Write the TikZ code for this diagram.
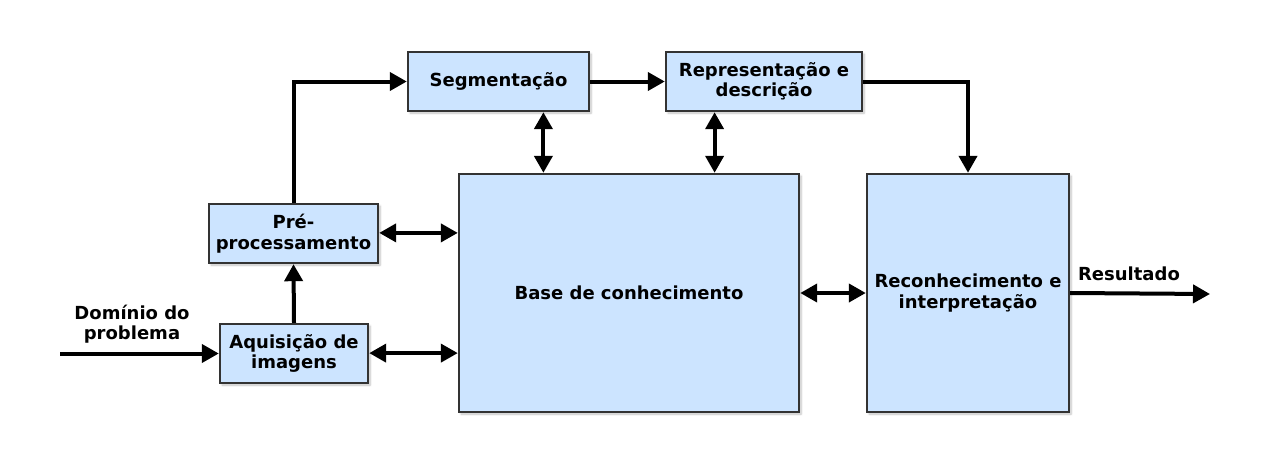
\documentclass[tikz,border=0pt]{standalone}
\usepackage{fontspec}
\setmainfont{DejaVu Sans}
\usetikzlibrary{arrows.meta,calc,shadows.blur}
\begin{document}
\begin{tikzpicture}[x=1pt,y=-1pt,
  box/.style={draw=black!80, line width=2.4pt, fill={rgb,255:red,204;green,228;blue,255},
    align=center, inner sep=0pt, font=\fontsize{18}{20.5}\selectfont\bfseries,
    blur shadow={shadow xshift=2pt, shadow yshift=-2pt, shadow blur steps=6, shadow opacity=25}},
  lbl/.style={align=center, font=\fontsize{18}{20.5}\selectfont\bfseries},
  flow/.style={line width=4pt, -{Triangle[length=17pt,width=18pt]}},
  both/.style={line width=4pt, {Triangle[length=17pt,width=18pt]}-{Triangle[length=17pt,width=18pt]}}]
\useasboundingbox (0,0) rectangle (1277,471);

% processing blocks
\node[box, minimum width=181pt, minimum height=59pt] (seg) at (498.5,81.5) {Segmentação};
\node[box, minimum width=196pt, minimum height=59pt] (rep) at (764,81.5) {Representação e\\descrição};
\node[box, minimum width=169pt, minimum height=59pt] (pre) at (293.5,233.5) {Pré-\\processamento};
\node[box, minimum width=148pt, minimum height=59pt] (aq) at (294,353.5) {Aquisição de\\imagens};
\node[box, minimum width=340pt, minimum height=238pt] (base) at (629,293) {Base de conhecimento};
\node[box, minimum width=202pt, minimum height=238pt] (rec) at (968,293) {Reconhecimento e\\interpretação};

% connection points on the knowledge base
\coordinate (bt1) at ($(base.north west)!0.25!(base.north east)$);
\coordinate (bt2) at ($(base.north west)!0.75!(base.north east)$);
\coordinate (bl1) at ($(base.north west)!0.25!(base.south west)$);
\coordinate (bl2) at ($(base.north west)!0.75!(base.south west)$);

% input and output ends
\coordinate (in) at (60,353.5);
\coordinate (out) at (1210,294);

% main flow
\draw[flow] (in) -- (aq.west);
\draw[flow] (aq.north) -- (pre.south);
\draw[flow] (pre.north) |- (seg.west);
\draw[flow] (seg.east) -- (rep.west);
\draw[flow] (rep.east) -| (rec.north);
\draw[flow] (rec.east) -- (out);

% exchanges with the knowledge base
\draw[both] (seg.south -| bt1) -- (bt1);
\draw[both] (rep.south -| bt2) -- (bt2);
\draw[both] (pre.east |- bl1) -- (bl1);
\draw[both] (aq.east |- bl2) -- (bl2);
\draw[both] (base.east) -- (rec.west);

% labels
\node[lbl] (dom) at (132,324) {Domínio do\\problema};
\node[lbl] (res) at (1129,274) {Resultado};
\end{tikzpicture}
\end{document}
